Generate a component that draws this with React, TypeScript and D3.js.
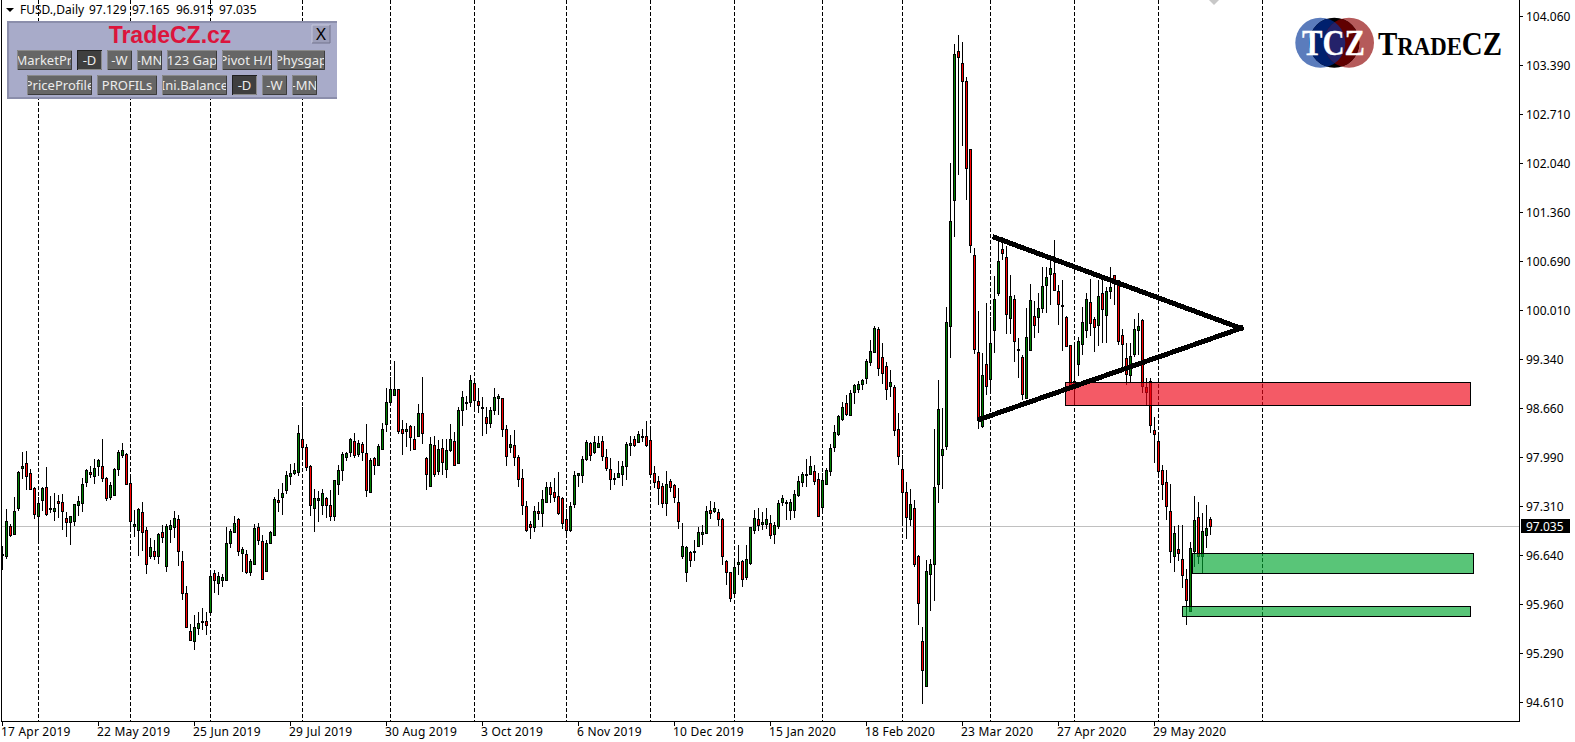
import React from "react";
import * as d3 from "d3";

const opens = [
96.64,96.63,97.04,96.93,97.29,97.83,97.90,97.77,97.56,97.18,
97.39,97.57,97.27,97.24,97.38,97.37,97.15,97.09,97.10,97.32,
97.35,97.64,97.78,97.73,97.87,97.86,97.70,97.44,97.46,97.82,
98.01,98.03,97.63,97.04,96.98,97.23,96.98,96.63,96.69,96.62,
96.95,96.48,96.99,97.03,97.13,96.56,96.11,95.59,95.46,95.63,
95.71,95.73,95.85,96.39,96.25,96.30,96.30,96.81,96.96,97.13,
96.67,96.65,96.40,96.52,97.02,96.83,96.42,96.81,96.92,97.39,
97.43,97.53,97.73,97.77,97.78,98.23,98.12,97.86,97.28,97.39,
97.32,97.42,97.32,97.17,97.61,97.81,97.99,98.05,98.21,98.03,
98.16,98.04,97.51,97.97,97.88,98.10,98.44,98.74,98.84,98.92,
98.37,98.35,98.41,98.23,98.28,98.60,97.97,97.59,98.15,97.79,
98.11,97.82,98.08,98.21,97.90,98.63,98.73,98.74,99.00,98.76,
98.67,98.54,98.45,98.64,98.80,98.80,98.38,98.12,98.15,97.99,
97.70,97.31,97.06,97.03,97.24,97.21,97.37,97.57,97.50,97.45,
97.42,97.13,96.98,97.34,97.74,97.74,97.96,98.18,98.05,98.13,
98.21,97.99,97.82,97.70,97.71,97.75,97.87,98.15,98.23,98.20,
98.28,98.27,98.22,97.77,97.66,97.59,97.36,97.66,97.60,97.37,
96.62,96.40,96.68,96.69,96.76,96.93,96.94,97.26,97.24,97.23,
97.13,96.56,96.40,96.12,96.51,96.56,96.34,96.53,96.98,97.13,
97.06,97.07,97.08,96.93,97.04,97.37,97.37,97.26,97.26,97.47,
97.65,97.75,97.76,97.79,97.68,97.30,97.62,97.79,98.13,98.31,
98.51,98.73,98.57,98.88,98.93,98.99,99.07,99.29,99.44,99.75,
99.37,99.24,98.96,98.95,98.37,97.82,97.50,97.13,97.28,96.63,
95.45,94.84,96.37,96.51,97.62,98.02,98.14,99.79,101.52,103.58,
103.41,103.16,102.23,100.77,99.43,98.41,99.27,99.06,99.73,100.24,
100.85,100.74,99.90,100.17,99.47,99.36,98.80,99.46,99.93,99.91,
100.04,100.35,100.51,100.52,100.28,100.08,99.91,99.53,99.03,99.27,
99.54,99.73,100.12,99.89,99.80,100.24,99.94,100.27,100.49,100.42,
99.67,99.35,99.11,99.40,99.74,99.87,98.95,99.03,98.36,98.21,
97.81,97.64,97.24,96.63,96.72,96.59,96.31,95.87,96.70,97.16,
96.62,96.91,97.129,
];

const highs = [
96.76,97.27,97.07,97.44,97.80,98.05,98.07,97.82,97.57,97.44,
97.58,97.85,97.45,97.49,97.46,97.48,97.23,97.18,97.34,97.45,
97.70,97.82,97.86,97.96,97.96,98.24,97.71,97.65,97.83,98.09,
98.18,98.04,97.70,97.26,97.28,97.37,97.03,96.87,96.85,96.94,
97.05,97.07,97.12,97.25,97.19,96.70,96.21,95.69,95.81,95.86,
95.91,95.85,96.43,96.43,96.41,96.38,97.03,97.00,97.18,97.15,
96.75,96.71,96.58,97.07,97.08,96.92,96.85,96.97,97.43,97.55,
97.63,97.79,97.89,97.90,98.43,98.67,98.16,97.88,97.55,97.52,
97.55,97.44,97.54,97.67,97.88,98.06,98.06,98.25,98.32,98.22,
98.19,98.44,97.97,97.99,98.17,98.46,98.94,99.09,99.31,98.92,
98.50,98.46,98.43,98.42,98.72,99.09,97.99,98.26,98.27,98.22,
98.23,98.23,98.44,98.33,98.68,98.90,98.83,99.11,99.06,98.94,
98.81,98.68,98.67,98.94,98.85,98.80,98.43,98.29,98.36,98.02,
97.82,97.38,97.11,97.31,97.37,97.54,97.65,97.65,97.70,97.78,
97.43,97.27,97.37,97.80,97.77,98.00,98.22,98.20,98.28,98.27,
98.28,98.10,97.97,97.77,97.93,97.93,98.19,98.27,98.28,98.35,
98.38,98.49,98.37,97.87,97.73,97.63,97.80,97.68,97.62,97.56,
97.08,96.76,96.70,96.85,97.02,97.05,97.31,97.38,97.37,97.27,
97.15,96.57,96.41,96.54,96.78,96.57,96.78,97.02,97.26,97.28,
97.23,97.28,97.19,97.09,97.39,97.46,97.40,97.41,97.54,97.73,
97.78,97.96,98.00,97.88,97.77,97.77,97.83,98.16,98.43,98.57,
98.74,98.84,98.91,98.99,99.03,99.06,99.34,99.60,99.79,99.78,
99.56,99.29,99.19,98.98,98.59,98.01,97.64,97.55,97.40,96.64,
95.64,96.57,96.59,98.38,99.05,98.66,100.05,102.03,103.68,103.80,
103.70,103.22,102.23,100.86,100.00,99.42,100.11,99.91,100.48,100.98,
101.02,100.89,100.50,100.22,99.63,99.39,100.04,100.37,100.13,100.24,
100.61,100.61,100.73,100.97,100.36,100.43,99.93,99.53,99.51,99.64,
100.05,100.25,100.44,99.91,100.43,100.43,100.33,100.60,100.50,100.43,
99.75,99.56,99.56,99.89,99.97,99.89,99.07,99.07,98.54,98.27,
97.88,97.81,97.62,97.04,97.05,97.05,96.44,96.82,97.45,97.37,
97.21,97.33,97.165,
];

const lows = [
96.43,96.59,96.89,96.93,97.24,97.69,97.54,97.53,97.14,96.82,
97.24,97.18,97.21,97.11,97.15,96.98,96.88,96.78,97.04,97.17,
97.23,97.57,97.70,97.61,97.72,97.64,97.38,97.40,97.46,97.72,
97.98,97.61,96.99,96.88,96.63,96.70,96.38,96.59,96.57,96.52,
96.80,96.41,96.80,96.87,96.49,96.02,95.63,95.45,95.33,95.54,
95.61,95.54,95.81,96.12,96.09,96.20,96.29,96.74,96.95,96.62,
96.40,96.38,96.35,96.52,96.78,96.30,96.40,96.80,96.92,97.23,
97.19,97.48,97.60,97.74,97.73,98.00,97.79,97.17,96.96,97.09,
97.19,97.15,97.10,97.10,97.47,97.66,97.93,97.99,97.97,97.99,
97.93,97.43,97.50,97.74,97.88,98.08,98.33,98.72,98.83,98.31,
98.01,98.12,98.07,98.10,98.26,98.16,97.54,97.59,97.71,97.74,
97.74,97.70,98.05,97.86,97.90,98.42,98.63,98.68,98.64,98.60,
98.27,98.31,98.39,98.57,98.57,98.26,97.86,98.04,97.86,97.58,
97.19,96.95,96.86,96.96,97.12,97.03,97.35,97.35,97.37,97.19,
96.99,96.91,96.95,97.28,97.58,97.63,97.93,97.93,98.03,98.11,
97.93,97.80,97.53,97.60,97.70,97.59,97.67,98.00,98.12,98.18,
98.19,98.12,97.72,97.56,97.33,97.29,97.18,97.50,97.35,96.99,
96.58,96.27,96.47,96.55,96.75,96.78,96.93,97.14,97.21,97.04,
96.50,96.23,95.99,96.09,96.36,96.20,96.29,96.50,96.93,96.97,
96.98,96.99,96.86,96.79,96.99,97.31,97.12,97.12,97.15,97.43,
97.58,97.58,97.74,97.60,97.16,97.24,97.60,97.73,98.05,98.27,
98.48,98.55,98.57,98.72,98.87,98.91,98.99,99.24,99.43,99.10,
98.99,98.77,98.81,98.27,97.88,97.08,96.86,97.04,96.47,95.67,
94.59,94.84,95.87,96.00,97.36,97.55,98.08,99.35,101.02,101.87,
102.27,101.53,100.80,99.41,98.38,98.39,98.84,98.89,99.42,100.21,
100.70,99.68,99.68,99.29,99.07,98.77,98.79,99.45,99.63,99.69,
99.97,99.97,100.08,100.28,99.81,99.45,99.50,98.91,98.73,99.10,
99.39,99.63,99.65,99.44,99.51,99.56,99.56,100.17,100.08,99.53,
99.21,98.98,99.00,99.37,99.39,98.87,98.70,98.32,97.91,97.73,
97.40,97.12,96.53,96.41,96.56,96.19,95.68,95.87,96.47,96.52,
96.39,96.74,96.915,
];

const closes = [
96.65,97.11,96.92,97.25,97.78,97.87,97.73,97.55,97.20,97.35,
97.56,97.20,97.28,97.28,97.35,97.25,97.09,97.17,97.34,97.38,
97.62,97.81,97.75,97.83,97.94,97.70,97.42,97.60,97.82,98.06,
98.08,97.61,97.11,97.06,97.27,96.96,96.51,96.75,96.63,96.93,
96.88,97.04,97.05,97.15,96.70,96.12,95.65,95.47,95.64,95.70,
95.73,95.68,96.35,96.29,96.35,96.33,96.80,96.97,97.08,96.69,
96.72,96.40,96.55,97.01,96.85,96.31,96.81,96.96,97.41,97.37,
97.49,97.74,97.77,97.81,98.32,98.13,97.85,97.32,97.42,97.42,
97.49,97.32,97.18,97.67,97.81,98.03,98.04,98.23,98.02,98.18,
98.06,97.53,97.94,97.88,98.14,98.38,98.74,98.92,98.92,98.34,
98.32,98.38,98.26,98.10,98.60,98.32,97.75,98.16,97.75,98.10,
97.92,98.09,98.23,97.88,98.63,98.81,98.75,99.05,98.77,98.70,
98.66,98.45,98.63,98.81,98.83,98.38,98.00,98.16,97.99,97.69,
97.32,96.98,97.02,97.24,97.21,97.41,97.57,97.48,97.43,97.22,
97.08,96.98,97.31,97.74,97.77,97.96,98.20,98.02,98.19,98.18,
98.00,97.83,97.68,97.68,97.77,97.87,98.16,98.18,98.15,98.30,
98.27,98.15,97.76,97.65,97.56,97.36,97.61,97.58,97.43,97.11,
96.76,96.75,96.57,96.70,96.95,96.95,97.25,97.21,97.28,97.13,
96.62,96.41,96.04,96.47,96.54,96.31,96.58,97.02,97.15,97.05,
97.09,97.13,96.92,97.05,97.35,97.42,97.35,97.37,97.48,97.66,
97.76,97.76,97.87,97.66,97.18,97.67,97.81,98.11,98.33,98.55,
98.67,98.58,98.87,98.98,98.99,99.05,99.31,99.45,99.76,99.22,
99.14,98.93,99.02,98.36,98.00,97.51,97.16,97.34,96.52,95.98,
95.06,96.42,96.51,97.57,98.65,98.10,99.84,101.24,103.54,103.50,
103.16,101.97,100.91,99.48,98.50,99.12,98.96,99.56,100.17,100.68,
100.80,99.95,100.20,99.58,99.46,98.85,99.64,100.15,99.80,100.04,
100.34,100.46,100.59,100.29,100.09,100.06,99.51,98.96,99.01,99.58,
99.84,100.17,99.83,99.78,100.20,100.02,100.27,100.33,100.38,99.58,
99.54,99.13,99.38,99.75,99.79,98.96,98.88,98.43,98.31,97.80,
97.62,97.31,96.70,96.94,96.67,96.36,96.02,96.73,97.12,96.62,
96.97,97.01,97.035,
];

const priceTicks = [104.06,103.39,102.71,102.04,101.36,100.69,100.01,99.34,98.66,97.99,97.31,96.64,95.96,95.29,94.61];
const timeLabels = ["17 Apr 2019","22 May 2019","25 Jun 2019","29 Jul 2019","30 Aug 2019","3 Oct 2019","6 Nov 2019","10 Dec 2019","15 Jan 2020","18 Feb 2020","23 Mar 2020","27 Apr 2020","29 May 2020"];
const timeLabelStep = 24;
const gridBars = [9,32,52,75,97,118,141,162,183,205,225,247,268,289,315];
const lastPrice = 97.035;
const quote = ["97.129","97.165","96.915","97.035"];

const zoneNames = ["resistance","support1","support2"];
const zoneBarFrom = [265.75,297.5,295];
const zoneBarTo = [367,367.75,367];
const zoneTop = [99.016,96.66,95.93];
const zoneBottom = [98.699,96.385,95.793];
const zoneFill = ["rgb(238,2,20)","rgb(0,166,48)","rgb(0,166,48)"];

const trendBars = [[248.1,309.6],[244.5,309.6]];
const trendPrices = [[101.01,99.76],[98.51,99.76]];

const buttonRow1 = ["MarketPr.","-D","-W","-MN","123 Gap","Pivot H/L","Physgap"];
const buttonRow1X = [17,77,107,137,167,222,277];
const buttonRow1W = [55,25,25,25,50,50,48];
const buttonRow2 = ["PriceProfile","PROFILs","Ini.Balance","-D","-W","-MN"];
const buttonRow2X = [27,97,162,232,262,292];
const buttonRow2W = [65,60,65,25,25,25];

const W = 1575, H = 742;
const PLOT_R = 1519, PLOT_B = 721;
const y = d3.scaleLinear().domain([94.61, 104.06]).range([702.3, 16]);
const x = d3.scaleLinear().domain([0, 1]).range([2.5, 6.5]);
const UI = "Noto Sans, sans-serif";

function Button({ label, bx, by, bw, dark }: { label: string; bx: number; by: number; bw: number; dark: boolean }) {
  const h = 20;
  return (
    <g>
      <rect x={bx} y={by} width={bw} height={h} fill={dark ? "#3f3f3f" : "#666666"} />
      <path d={`M${bx + 0.5},${by + h}V${by + 0.5}H${bx + bw}`} stroke={dark ? "#202020" : "#8a8a8a"} fill="none" />
      <path d={`M${bx + 1},${by + h - 0.5}H${bx + bw - 0.5}V${by + 1}`} stroke={dark ? "#8a8a8a" : "#3c3c3c"} strokeWidth={1} fill="none" />
      <svg x={bx + 1} y={by} width={bw - 2} height={h}>
        <text x={(bw - 2) / 2} y={15} textAnchor="middle" fontFamily={UI} fontSize={13} fill="#ececec">{label}</text>
      </svg>
    </g>
  );
}

export default function App() {
  const gy = Math.round(y(lastPrice)) + 0.5;
  const trendLine = d3.line<[number, number]>().x((d) => x(d[0])).y((d) => y(d[1]));
  return (
    <svg width={W} height={H} viewBox={`0 0 ${W} ${H}`} style={{ position: "fixed", left: 0, top: 0, background: "#fff" }}>
      <defs>
        <clipPath id="cBlue"><circle cx={1320.3} cy={42.7} r={25} /></clipPath>
        <clipPath id="cRed"><circle cx={1349} cy={42.7} r={25} /></clipPath>
        <clipPath id="cMid"><circle cx={1334.3} cy={42.7} r={25} /></clipPath>
        <clipPath id="plotClip"><rect x={2} y={0} width={PLOT_R - 2} height={PLOT_B} /></clipPath>
      </defs>

      {/* grid */}
      <g shapeRendering="crispEdges">
        {gridBars.map((b) => {
          const gx = Math.floor(x(b)) + 0.5;
          return <line key={b} x1={gx} x2={gx} y1={0} y2={PLOT_B} stroke="#000" strokeDasharray="4 2" />;
        })}
        <line x1={2} x2={PLOT_R} y1={gy} y2={gy} stroke="#c0c0c0" />
      </g>

      {/* candles */}
      <g shapeRendering="crispEdges" clipPath="url(#plotClip)">
        {opens.map((o, i) => {
          const c = closes[i];
          const col = Math.floor(x(i));
          const top = Math.round(y(Math.max(o, c)));
          const bot = Math.round(y(Math.min(o, c)));
          return (
            <g key={i}>
              <line x1={col + 0.5} x2={col + 0.5} y1={Math.round(y(highs[i]))} y2={Math.round(y(lows[i]))} stroke="#000" />
              <rect x={col - 0.5} y={top + 0.5} width={2} height={Math.max(bot - top, 1)} fill={c >= o ? "#008000" : "#ff0000"} stroke="#000" />
            </g>
          );
        })}
      </g>

      {/* zones */}
      <g shapeRendering="crispEdges">
        {zoneNames.map((n, k) => {
          const x0 = Math.floor(x(zoneBarFrom[k])) + 0.5;
          const x1 = Math.floor(x(zoneBarTo[k])) + 0.5;
          const y0 = Math.floor(y(zoneTop[k])) + 0.5;
          const y1 = Math.floor(y(zoneBottom[k])) + 0.5;
          return (
            <g key={n}>
              <rect x={x0} y={y0} width={x1 - x0} height={y1 - y0} fill={zoneFill[k]} fillOpacity={0.65} />
              <rect x={x0} y={y0} width={x1 - x0} height={y1 - y0} fill="none" stroke="#000" />
            </g>
          );
        })}
      </g>

      {/* triangle */}
      <g shapeRendering="crispEdges" fill="none" stroke="#000" strokeWidth={5} strokeLinecap="square">
        {trendBars.map((tb, k) => (
          <path key={k} d={trendLine([[tb[0], trendPrices[k][0]], [tb[1], trendPrices[k][1]]]) as string} />
        ))}
      </g>

      {/* frame */}
      <g shapeRendering="crispEdges" stroke="#000">
        <line x1={1.5} x2={1.5} y1={0} y2={PLOT_B} />
        <line x1={1} x2={PLOT_R + 1} y1={PLOT_B + 0.5} y2={PLOT_B + 0.5} />
        <line x1={PLOT_R + 0.5} x2={PLOT_R + 0.5} y1={0} y2={PLOT_B} />
      </g>

      {/* price axis */}
      <g fontFamily={UI} fontSize={12} fill="#000">
        {priceTicks.map((p) => {
          const ty = Math.round(y(p));
          return (
            <g key={p}>
              <rect x={PLOT_R + 1} y={ty} width={3} height={1} fill="#000" />
              <text x={1526} y={ty + 4.5}>{p.toFixed(3)}</text>
            </g>
          );
        })}
      </g>
      <rect x={1521} y={519} width={49} height={14} fill="#000" />
      <text x={1526} y={gy + 4.5} fontFamily={UI} fontSize={12} fill="#fff">{lastPrice.toFixed(3)}</text>

      {/* time axis */}
      <g fontFamily={UI} fontSize={12} fill="#000" letterSpacing={0.2}>
        {timeLabels.map((t, k) => {
          const tx = Math.floor(x(k * timeLabelStep));
          return (
            <g key={t}>
              <rect x={tx} y={PLOT_B + 1} width={1} height={4} fill="#000" />
              <text x={tx - 1} y={736}>{t}</text>
            </g>
          );
        })}
      </g>

      {/* header */}
      <path d="M6,8H14L10,12Z" fill="#000" />
      <g fontFamily={UI} fontSize={12} fill="#000">
        <text x={20} y={14}>FUSD.,Daily</text>
        {quote.map((q, k) => (
          <text key={q} x={[89, 132, 176, 219][k]} y={14}>{q}</text>
        ))}
      </g>
      <path d="M1209,0L1214,5L1219,0Z" fill="#c8c8c8" />

      {/* panel */}
      <rect x={7} y={21} width={330} height={78} fill="#a8abc9" />
      <path d="M8,99V22H337" fill="none" stroke="#8b8eab" strokeWidth={2} />
      <path d="M8,98H337" fill="none" stroke="#8b8eab" strokeWidth={2} />
      <text x={170} y={43} textAnchor="middle" fontFamily="Liberation Sans, sans-serif" fontWeight="bold" fontSize={23} fill="#dc143c">TradeCZ.cz</text>
      <rect x={312} y={25} width={18} height={18} fill="#9c9eb9" />
      <path d="M312,43V25H330" fill="none" stroke="#c5c7dc" />
      <path d="M312,43H330V25" fill="none" stroke="#73758d" />
      <text x={321} y={40} textAnchor="middle" fontFamily={UI} fontSize={17} fill="#000">X</text>
      {buttonRow1.map((b, k) => (
        <Button key={"a" + k} label={b} bx={buttonRow1X[k]} by={50} bw={buttonRow1W[k]} dark={b === "-D"} />
      ))}
      {buttonRow2.map((b, k) => (
        <Button key={"b" + k} label={b} bx={buttonRow2X[k]} by={75} bw={buttonRow2W[k]} dark={b === "-D"} />
      ))}

      {/* logo */}
      <circle cx={1320.3} cy={42.7} r={25} fill="#5b7cbc" />
      <circle cx={1349} cy={42.7} r={25} fill="#b55a5a" />
      <circle cx={1334.3} cy={42.7} r={25} fill="#000" />
      <g clipPath="url(#cMid)">
        <circle cx={1320.3} cy={42.7} r={25} fill="#00206e" />
        <circle cx={1349} cy={42.7} r={25} fill="#600000" />
        <g clipPath="url(#cBlue)">
          <circle cx={1349} cy={42.7} r={25} fill="#24226a" />
        </g>
      </g>
      <text x={1302} y={55} textLength={63} lengthAdjust="spacingAndGlyphs" fontFamily="Liberation Serif, serif" fontWeight="bold" fontSize={35} fill="#fff" stroke="#fff" strokeWidth={0.3}>TCZ</text>
      <text x={1378} y={55} textLength={124} lengthAdjust="spacingAndGlyphs" fontFamily="Liberation Serif, serif" fontWeight="bold" fontSize={33} fill="#000">
        T<tspan fontSize={26}>RADE</tspan>CZ
      </text>
    </svg>
  );
}
